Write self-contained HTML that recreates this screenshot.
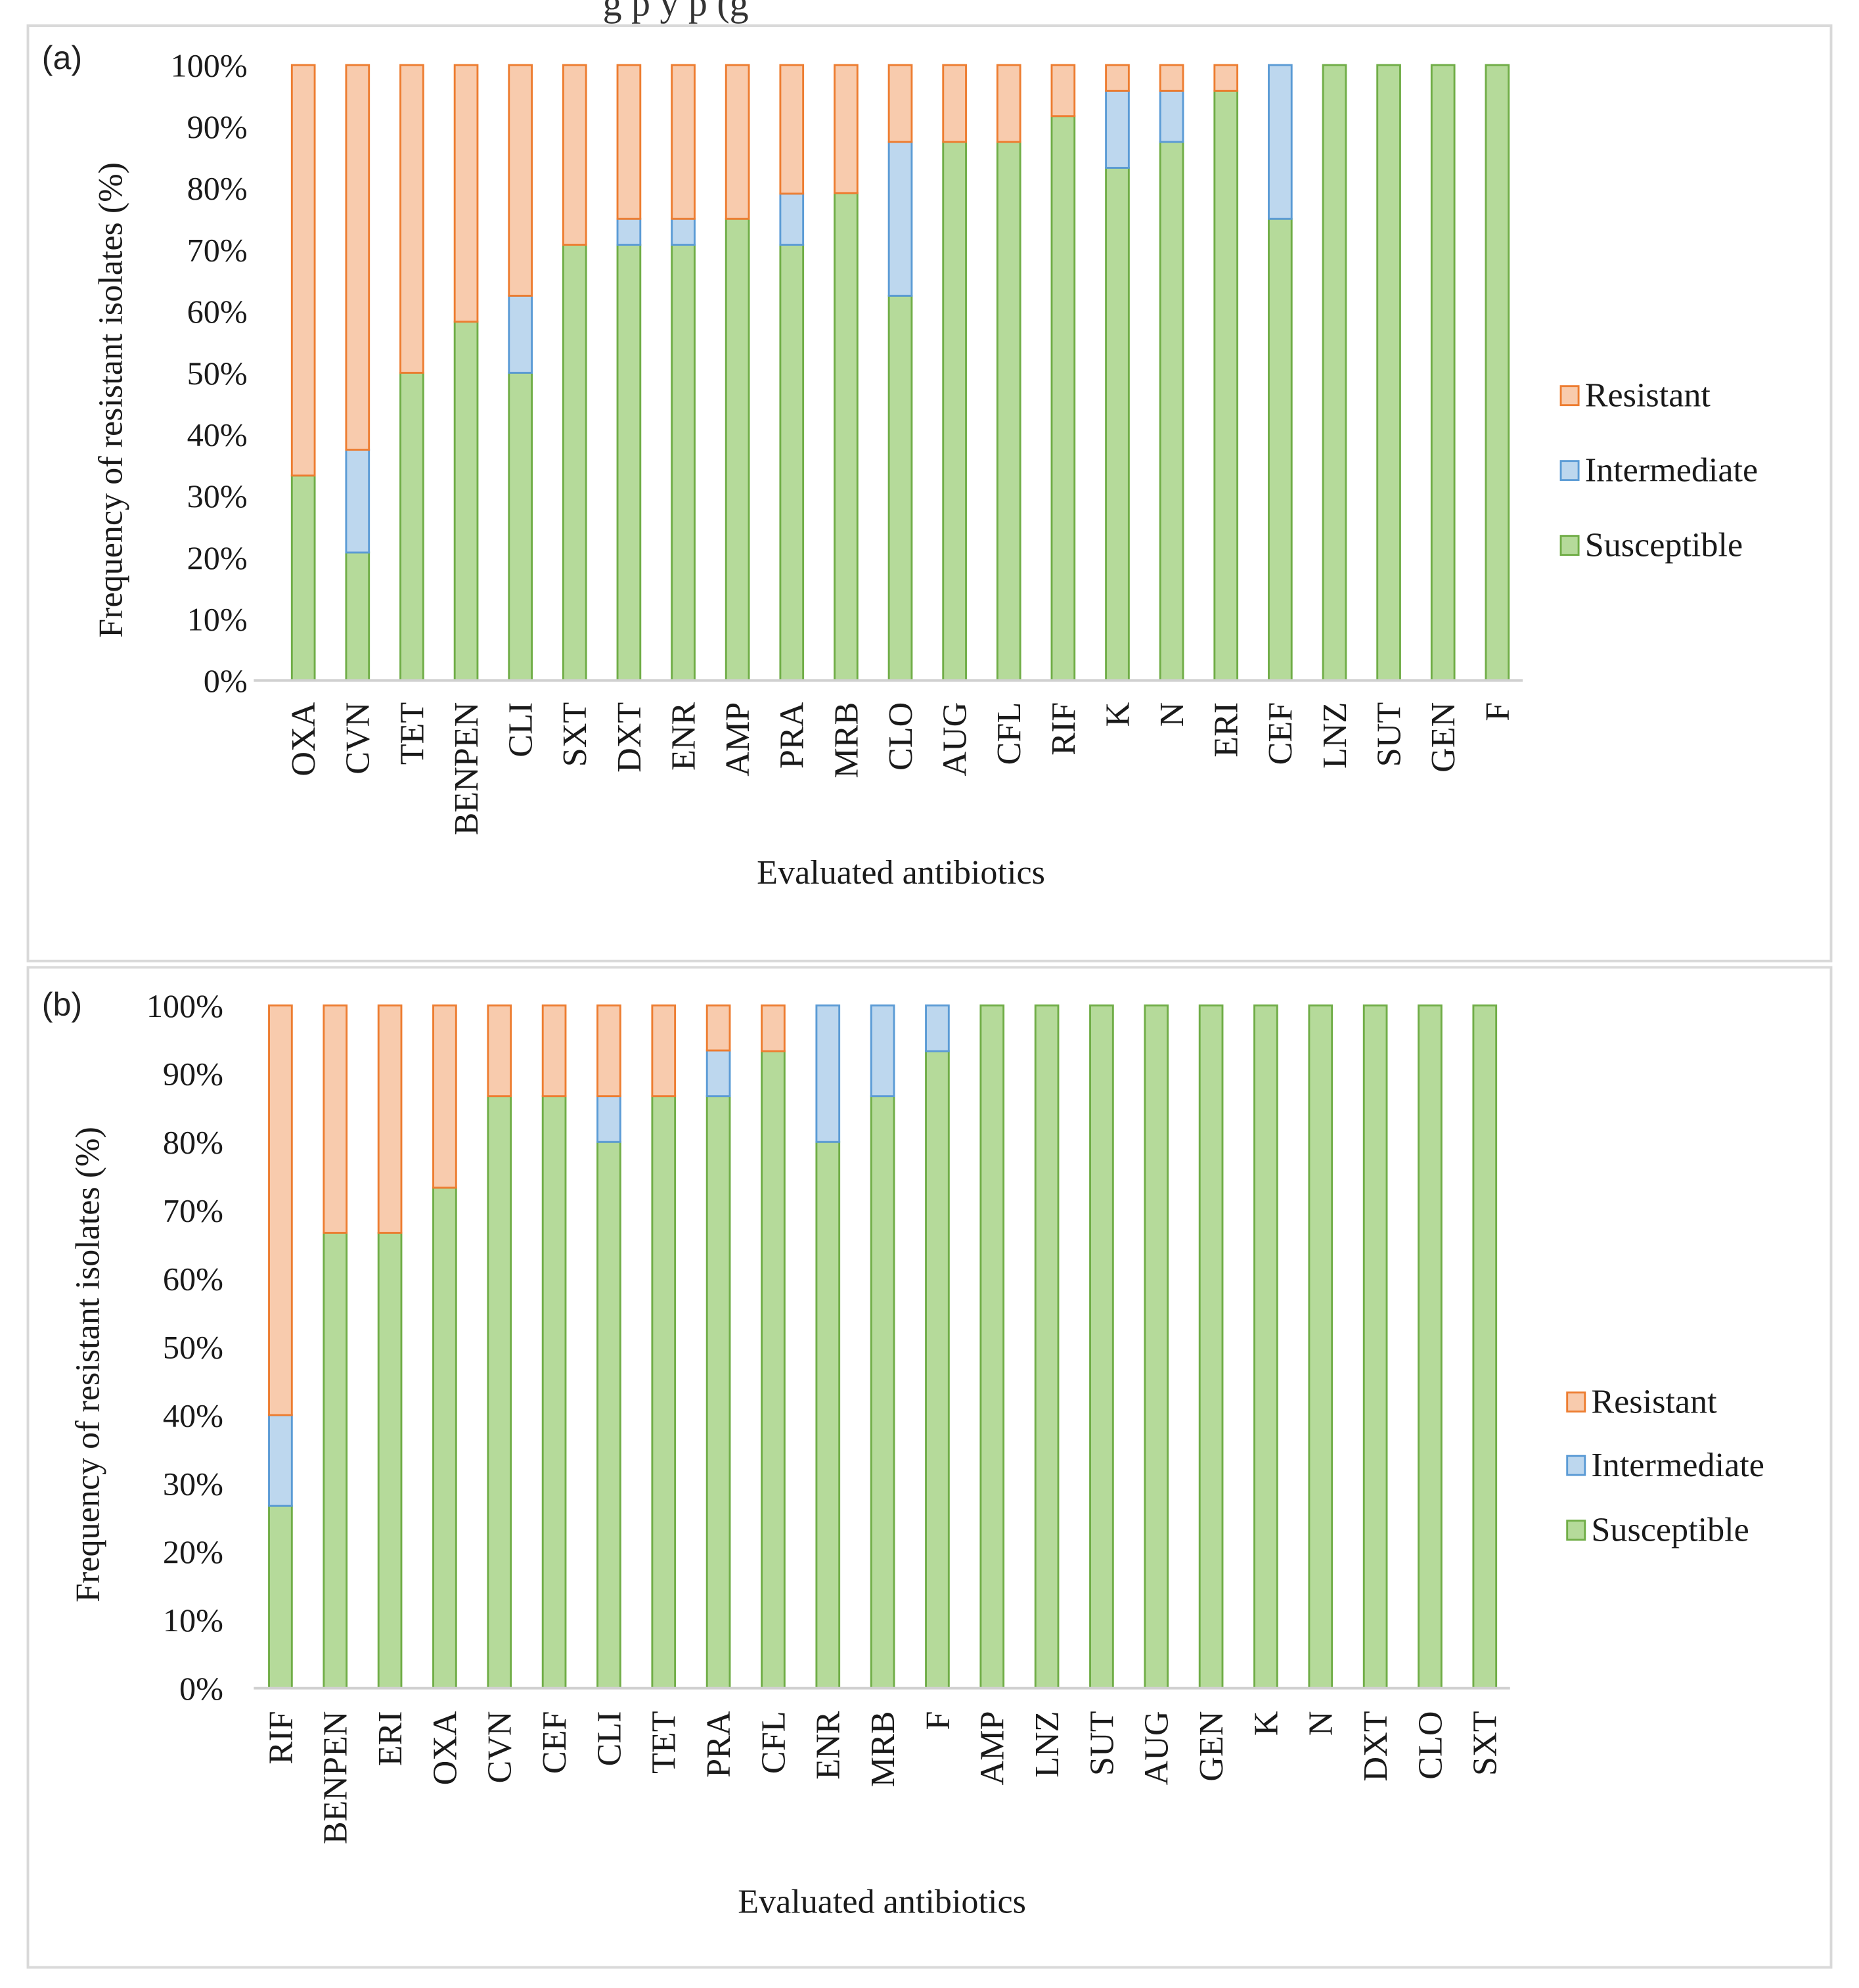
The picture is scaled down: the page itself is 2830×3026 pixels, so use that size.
<!DOCTYPE html>
<html><head><meta charset="utf-8"><style>
html,body{margin:0;padding:0;background:#fff;}
svg{display:block;}
</style></head><body>
<svg id="fig" width="2830" height="3026" viewBox="0 0 1465 1566" xmlns="http://www.w3.org/2000/svg" font-family="Liberation Serif, serif">
<text x="475" y="12" font-size="30" fill="#333">g                         p   y                      p   (g</text>
<rect x="22" y="20" width="1421" height="737" fill="#fff" stroke="#d9d9d9" stroke-width="2"/>
<rect x="22" y="762" width="1421" height="788" fill="#fff" stroke="#d9d9d9" stroke-width="2"/>
<text x="33" y="54" font-size="26" fill="#222" font-family="Liberation Sans, sans-serif">(a)</text>
<text x="33" y="800" font-size="26" fill="#222" font-family="Liberation Sans, sans-serif">(b)</text>
</svg>
<script>
const catsA=["OXA","CVN","TET","BENPEN","CLI","SXT","DXT","ENR","AMP","PRA","MRB","CLO","AUG","CFL","RIF","K","N","ERI","CEF","LNZ","SUT","GEN","F"];
const suscA=[33.3,20.8,50,58.3,50,70.8,70.8,70.8,75,70.8,79.2,62.5,87.5,87.5,91.7,83.3,87.5,95.8,75,100,100,100,100];
const interA=[0,16.7,0,0,12.5,0,4.2,4.2,0,8.3,0,25,0,0,0,12.5,8.3,0,25,0,0,0,0];
const catsB=["RIF","BENPEN","ERI","OXA","CVN","CEF","CLI","TET","PRA","CFL","ENR","MRB","F","AMP","LNZ","SUT","AUG","GEN","K","N","DXT","CLO","SXT"];
const suscB=[26.7,66.7,66.7,73.3,86.7,86.7,80,86.7,86.7,93.3,80,86.7,93.3,100,100,100,100,100,100,100,100,100,100];
const interB=[13.3,0,0,0,0,0,6.7,0,6.7,0,20,13.3,6.7,0,0,0,0,0,0,0,0,0,0];
const yTicks=[0,10,20,30,40,50,60,70,80,90,100];
const legendNames=["Resistant","Intermediate","Susceptible"];
const NS="http://www.w3.org/2000/svg";
const svg=document.getElementById('fig');
const COL={R:["#F8CBAD","#ED7D31"],I:["#BDD7EE","#5B9BD5"],S:["#B5DA9A","#70AD47"]};
function el(t,a,txt){const e=document.createElementNS(NS,t);for(const k in a)e.setAttribute(k,a[k]);if(t==='text'){e.setAttribute('font-family','Liberation Serif, serif');e.setAttribute('fill','#1a1a1a');}if(txt!==undefined)e.textContent=txt;svg.appendChild(e);return e;}
function panel(p){
  const y=v=>p.y0+(p.y100-p.y0)*v/100;
  const x=i=>p.x0+p.step*i;
  const bw=18;
  yTicks.forEach(t=>{
    const tx=el('text',{x:p.tickX,y:y(t)+9,'font-size':26,'text-anchor':'end'},t+'%');
    
    
  });
  p.cats.forEach((c,i)=>{
    const s=p.s[i],im=p.i[i];
    const segs=[["S",0,s],["I",s,s+im],["R",s+im,100]];
    segs.forEach(([k,a,b])=>{
      if(b-a<=0.01)return;
      const rc=el('rect',{x:x(i)-bw/2,y:y(b),width:bw,height:y(a)-y(b),fill:COL[k][0],stroke:COL[k][1],'stroke-width':1.5});
      
      
    });
    const lx=x(i)+9, ly=p.catY;
    const t=el('text',{x:lx,y:ly,'font-size':27,'text-anchor':'end',transform:`rotate(-90 ${lx} ${ly})`},c);
    
    
  });
  const ax=el('line',{x1:p.axL,x2:p.axR,y1:p.y0,y2:p.y0,stroke:'#d0d0d0','stroke-width':2});
  
  
  const yt=el('text',{x:p.ytx,y:p.yty,'font-size':27,'text-anchor':'middle',transform:`rotate(-90 ${p.ytx} ${p.yty})`},'Frequency of resistant isolates (%)');
  
  
  const xt=el('text',{x:p.xtx,y:p.xty,'font-size':27,'text-anchor':'middle'},'Evaluated antibiotics');
  
  
  legendNames.forEach((n,j)=>{
    const k=["R","I","S"][j];
    const ly=p.legY[j];
    const sq=el('rect',{x:p.legX,y:ly-15,width:14,height:15,fill:COL[k][0],stroke:COL[k][1],'stroke-width':1.5});
    
    
    const lt=el('text',{x:p.legX+19,y:ly+1,'font-size':27},n);
    
    
  });
}
panel({id:'a',cats:catsA,s:suscA,i:interA,y0:536,y100:51,x0:239,step:42.77,axL:200,axR:1200,tickX:195,catY:553,
  lx:33,ly:53,ytx:96,yty:315,xtx:710,xty:696,legX:1230,legY:[319,378,437]});
panel({id:'b',cats:catsB,s:suscB,i:interB,y0:1330,y100:792,x0:221,step:43.14,axL:200,axR:1190,tickX:176,catY:1348,
  lx:33,ly:800,ytx:78,yty:1075,xtx:695,xty:1507,legX:1235,legY:[1112,1162,1213]});
</script>
</body></html>
